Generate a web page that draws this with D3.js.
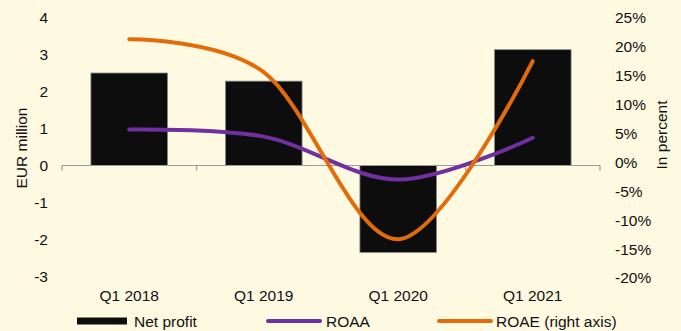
<!DOCTYPE html>
<html>
<head>
<meta charset="utf-8">
<script src="https://cdn.jsdelivr.net/npm/d3@7"></script>
<style>
  body { margin: 0; background: #fef9e1; }
  svg { display: block; font-family: "Liberation Sans", Arial, sans-serif; }
  text { fill: #111; font-size: 15.5px; }
</style>
</head>
<body>
<div id="chart"></div>
<script>
var quarters = ["Q1 2018", "Q1 2019", "Q1 2020", "Q1 2021"];
var netProfit = [2.5, 2.28, -2.35, 3.13];   // EUR million, left axis
var roaa = [0.97, 0.78, -0.38, 0.75];       // left axis
var roae = [21.3, 15.6, -13.3, 17.5];       // percent, right axis
var leftTicks = [4, 3, 2, 1, 0, -1, -2, -3];
var rightTicks = [25, 20, 15, 10, 5, 0, -5, -10, -15, -20];

var width = 681,
  height = 331;

var svg = d3.select("#chart").append("svg")
  .attr("width", width)
  .attr("height", height);

svg.append("rect")
  .attr("width", width)
  .attr("height", height)
  .attr("fill", "#fef9e1");

var x = d3.scaleBand()
  .domain(quarters)
  .range([62, 600]);

var yLeft = d3.scaleLinear()
  .domain([-3, 4])
  .range([276.5, 17.5]);

var yRight = d3.scaleLinear()
  .domain([-20, 25])
  .range([278, 17.8]);

// left tick labels
svg.append("g")
  .selectAll("text")
  .data(leftTicks)
  .enter().append("text")
  .attr("x", 48)
  .attr("y", function(d) { return yLeft(d); })
  .attr("dy", "0.35em")
  .attr("text-anchor", "end")
  .text(function(d) { return d; });

// right tick labels
svg.append("g")
  .selectAll("text")
  .data(rightTicks)
  .enter().append("text")
  .attr("x", 615)
  .attr("y", function(d) { return yRight(d); })
  .attr("dy", "0.35em")
  .text(function(d) { return d + "%"; });

svg.append("text")
  .attr("transform", "translate(27,148) rotate(-90)")
  .attr("text-anchor", "middle")
  .text("EUR million");

svg.append("text")
  .attr("transform", "translate(667,135) rotate(-90)")
  .attr("text-anchor", "middle")
  .text("In percent");

// bars
var barW = x.bandwidth() * 0.57;
svg.append("g")
  .selectAll("rect")
  .data(netProfit)
  .enter().append("rect")
  .attr("x", function(d, i) { return x(quarters[i]) + (x.bandwidth() - barW) / 2; })
  .attr("y", function(d) { return yLeft(Math.max(0, d)); })
  .attr("width", barW)
  .attr("height", function(d) { return Math.abs(yLeft(d) - yLeft(0)); })
  .attr("fill", "#0d0d0d")
  .attr("stroke", "#8a8a8a")
  .attr("stroke-width", 0.8);

// category axis at zero
var axis = svg.append("g").attr("stroke", "#9a9a9a").attr("stroke-width", 1.2).attr("fill", "none");
axis.append("line")
  .attr("x1", x.range()[0]).attr("x2", x.range()[1])
  .attr("y1", yLeft(0)).attr("y2", yLeft(0));
axis.selectAll(".tick")
  .data(quarters.concat([null]))
  .enter().append("line")
  .attr("x1", function(d) { return d ? x(d) : x.range()[1]; })
  .attr("x2", function(d) { return d ? x(d) : x.range()[1]; })
  .attr("y1", yLeft(0))
  .attr("y2", yLeft(0) + 5);

svg.append("g")
  .selectAll("text")
  .data(quarters)
  .enter().append("text")
  .attr("x", function(d) { return x(d) + x.bandwidth() / 2; })
  .attr("y", 301)
  .attr("text-anchor", "middle")
  .text(function(d) { return d; });

// lines
var curve = d3.curveCardinal.tension(0);
var roaaLine = d3.line()
  .x(function(d, i) { return x(quarters[i]) + x.bandwidth() / 2; })
  .y(function(d) { return yLeft(d); })
  .curve(curve);
var roaeLine = d3.line()
  .x(function(d, i) { return x(quarters[i]) + x.bandwidth() / 2; })
  .y(function(d) { return yRight(d); })
  .curve(curve);

svg.append("path")
  .datum(roaa)
  .attr("d", roaaLine)
  .attr("fill", "none")
  .attr("stroke", "#7030a0")
  .attr("stroke-width", 4)
  .attr("stroke-linecap", "round");

svg.append("path")
  .datum(roae)
  .attr("d", roaeLine)
  .attr("fill", "none")
  .attr("stroke", "#e36c09")
  .attr("stroke-width", 4)
  .attr("stroke-linecap", "round");

// legend
var legend = svg.append("g");
legend.append("rect")
  .attr("x", 77).attr("y", 317.5)
  .attr("width", 50).attr("height", 7)
  .attr("fill", "#0d0d0d");
legend.append("text").attr("x", 134).attr("y", 326.5).text("Net profit");

legend.append("line")
  .attr("x1", 268).attr("x2", 320).attr("y1", 321).attr("y2", 321)
  .attr("stroke", "#7030a0").attr("stroke-width", 4).attr("stroke-linecap", "round");
legend.append("text").attr("x", 326).attr("y", 326.5).text("ROAA");

legend.append("line")
  .attr("x1", 439).attr("x2", 491).attr("y1", 321).attr("y2", 321)
  .attr("stroke", "#e36c09").attr("stroke-width", 4).attr("stroke-linecap", "round");
legend.append("text").attr("x", 496).attr("y", 326.5).text("ROAE (right axis)");
</script>
</body>
</html>
